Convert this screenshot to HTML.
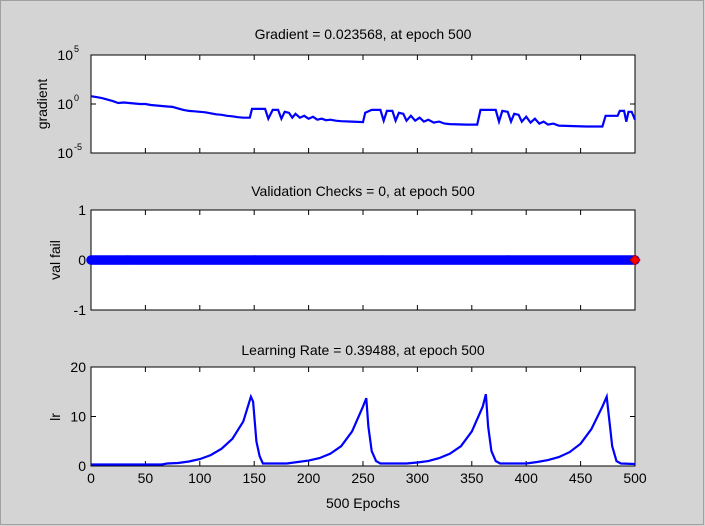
<!DOCTYPE html>
<html><head><meta charset="utf-8"><style>
body{margin:0;background:#fff}
svg{display:block;font-family:"Liberation Sans",Arial,sans-serif}
</style></head><body>
<svg id="fig" width="705" height="526" viewBox="0 0 705 526">
<rect x="0" y="0" width="705" height="526" fill="#d4d4d4"/>
<rect x="0.5" y="0.5" width="703" height="524" fill="none" stroke="#a0a0a0"/>
</svg>
<script>
const gradPts=[[0,0.8],[5,0.7],[10,0.6],[15,0.45],[20,0.3],[25,0.1],[30,0.15],[35,0.1],[40,0.05],[45,0],[50,0],[55,-0.1],[60,-0.15],[65,-0.2],[70,-0.25],[75,-0.3],[80,-0.45],[85,-0.6],[90,-0.7],[95,-0.75],[100,-0.8],[105,-0.85],[110,-0.95],[115,-1.05],[120,-1.1],[125,-1.2],[130,-1.25],[135,-1.35],[140,-1.4],[146,-1.4],[148,-0.5],[160,-0.5],[163,-1.5],[167,-0.6],[172,-0.6],[175,-1.5],[178,-0.8],[182,-0.9],[185,-1.4],[188,-1.0],[192,-1.4],[196,-1.2],[200,-1.5],[204,-1.3],[208,-1.6],[212,-1.5],[216,-1.65],[220,-1.6],[225,-1.7],[230,-1.75],[240,-1.8],[250,-1.85],[252,-0.9],[258,-0.6],[266,-0.6],[269,-1.7],[272,-0.7],[277,-0.7],[280,-1.7],[283,-0.9],[287,-1.0],[290,-1.7],[294,-1.2],[298,-1.7],[302,-1.4],[306,-1.8],[310,-1.6],[315,-1.9],[320,-1.8],[325,-2.0],[330,-2.05],[345,-2.1],[355,-2.1],[358,-0.6],[372,-0.6],[375,-1.8],[378,-0.7],[383,-0.8],[386,-1.8],[389,-1.0],[393,-1.1],[396,-1.8],[400,-1.3],[404,-1.9],[408,-1.5],[412,-2.0],[416,-1.8],[420,-2.1],[425,-2.0],[430,-2.2],[440,-2.25],[455,-2.3],[470,-2.3],[473,-1.2],[484,-1.2],[486,-0.7],[490,-0.7],[492,-1.8],[494,-0.8],[497,-0.8],[500,-1.6]];
const lrPts=[[0,0.3],[65,0.3],[70,0.5],[80,0.6],[90,0.9],[100,1.4],[110,2.2],[120,3.5],[130,5.5],[140,9],[147,14],[149,13],[152,5],[155,2],[158,0.5],[180,0.5],[190,0.8],[200,1.1],[210,1.6],[220,2.5],[230,4],[240,7],[250,12],[253,13.7],[255,8],[258,3],[262,1],[266,0.5],[290,0.5],[300,0.7],[310,1],[320,1.6],[330,2.5],[340,4],[350,7],[360,12],[363,14.5],[365,8],[368,3],[372,1],[376,0.5],[400,0.5],[410,0.8],[420,1.2],[430,1.8],[440,2.8],[450,4.5],[460,7.5],[470,12],[474,14],[476,10],[479,4],[483,1],[487,0.5],[500,0.4]];
const valFail=new Array(501).fill(0);
const xTicks=[0,50,100,150,200,250,300,350,400,450,500];
const gradTicks=[5,0,-5];
const valTicks=[1,0,-1];
const lrTicks=[0,10,20];
const titles=["Gradient = 0.023568, at epoch 500","Validation Checks = 0, at epoch 500","Learning Rate = 0.39488, at epoch 500"];

const NS="http://www.w3.org/2000/svg";
const svg=document.getElementById('fig');
function mk(t,a,p){const e=document.createElementNS(NS,t);for(const k in a)e.setAttribute(k,a[k]);(p||svg).appendChild(e);return e;}
const L=91,R=635;
const X=v=>L+(v/500)*(R-L);
function panel(top,bot,ymin,ymax,name){
  const g=mk('g',{});
  
  
  const r=mk('rect',{x:L,y:top,width:R-L,height:bot-top,fill:'#fff',stroke:'#000','stroke-width':1},g);
  
  
  return {g,Y:v=>bot-(v-ymin)/(ymax-ymin)*(bot-top),top,bot};
}
function xticks(p,labels){
  xTicks.forEach(t=>{
    mk('line',{x1:X(t),x2:X(t),y1:p.bot,y2:p.bot-5,stroke:'#000'},p.g);
    mk('line',{x1:X(t),x2:X(t),y1:p.top,y2:p.top+5,stroke:'#000'},p.g);
    if(labels){const tx=mk('text',{x:X(t),y:p.bot+17,'font-size':14,'text-anchor':'middle'},p.g);tx.textContent=t;
      
      }
  });
}
function ytick(p,v,lab,log){
  const y=p.Y(v);
  mk('line',{x1:L,x2:L+5,y1:y,y2:y,stroke:'#000'},p.g);
  mk('line',{x1:R,x2:R-5,y1:y,y2:y,stroke:'#000'},p.g);
  const tx=mk('text',{x:log?L-18:L-5,y:y+5,'font-size':14,'text-anchor':'end'},p.g);
  
  
  if(log){tx.textContent='10';const s=mk('text',{x:L-17,y:y-3,'font-size':9},p.g);s.textContent=lab;
    
    }
  else tx.textContent=lab;
}
function title(y,t,n){const e=mk('text',{x:(L+R)/2,y:y,'font-size':14,'text-anchor':'middle'});e.textContent=t;
  
  }
function ylabel(x,y,t,n){const e=mk('text',{x:x,y:y,'font-size':14,'text-anchor':'middle',transform:`rotate(-90 ${x} ${y})`});e.textContent=t;
  
  }

// Gradient panel
const p1=panel(55,153,-5,5,'gradient');
xticks(p1,false);
gradTicks.forEach(t=>ytick(p1,t,String(t),true));
let d=gradPts.map((q,i)=>(i?'L':'M')+X(q[0]).toFixed(1)+' '+p1.Y(q[1]).toFixed(1)).join(' ');
const gl=mk('path',{d,fill:'none',stroke:'#0000ff','stroke-width':2.2},p1.g);


title(39,titles[0],'gradient-title');
ylabel(47,104,'gradient','gradient-y-label');

// Validation panel
const p2=panel(210,310,-1,1,'val-fail');
xticks(p2,false);
valTicks.forEach(t=>ytick(p2,t,String(t),false));
valFail.forEach((v,i)=>{
  const c=mk('circle',{cx:X(i),cy:p2.Y(v),r:4,fill:'none',stroke:'#0000ff','stroke-width':1.5},p2.g);
  
  
});
const last=valFail.length-1;
const dm=mk('path',{d:`M${X(last)} ${p2.Y(valFail[last])-5} l5 5 l-5 5 l-5 -5z`,fill:'#ff0000',stroke:'#aa0000'},p2.g);


title(196,titles[1],'val-fail-title');
ylabel(60,260,'val fail','val-fail-y-label');

// LR panel
const p3=panel(367,466,0,20,'lr');
xticks(p3,true);
lrTicks.forEach(t=>ytick(p3,t,String(t),false));
d=lrPts.map((q,i)=>(i?'L':'M')+X(q[0]).toFixed(1)+' '+p3.Y(q[1]).toFixed(1)).join(' ');
const ll=mk('path',{d,fill:'none',stroke:'#0000ff','stroke-width':2.2},p3.g);


title(355,titles[2],'lr-title');
ylabel(60,417,'lr','lr-y-label');
const xl=mk('text',{x:(L+R)/2,y:508,'font-size':14,'text-anchor':'middle'});xl.textContent='500 Epochs';


</script>
</body></html>
